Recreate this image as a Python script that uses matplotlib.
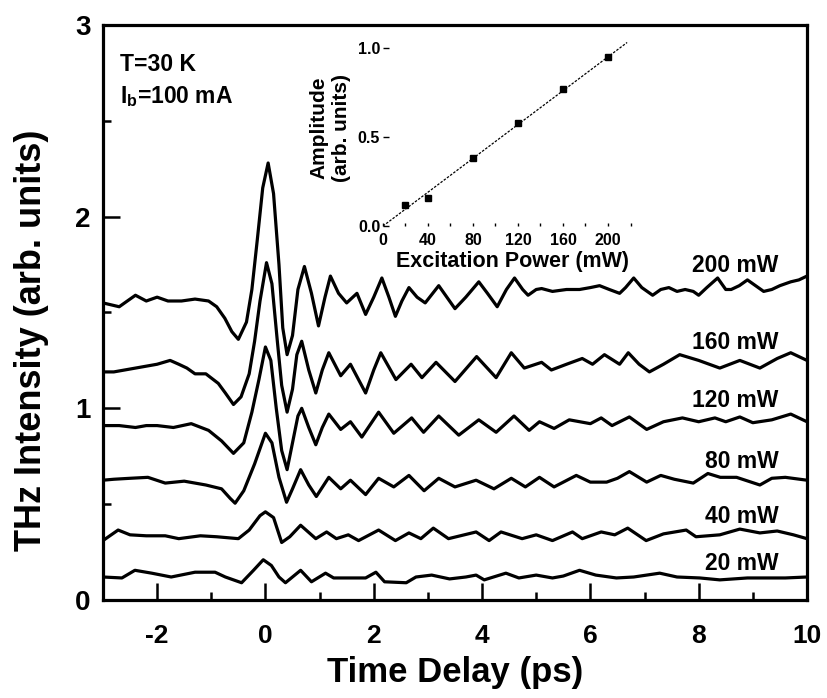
import numpy as np
import matplotlib
matplotlib.use('Agg')
import matplotlib.pyplot as plt
from matplotlib.ticker import MultipleLocator

plt.rcParams['font.family'] = 'Liberation Sans'
plt.rcParams['font.weight'] = 'bold'
plt.rcParams['axes.unicode_minus'] = False
plt.rcParams['mathtext.fontset'] = 'custom'
plt.rcParams['mathtext.rm'] = 'Liberation Sans:bold'

# ---- traces (time in ps, intensity in arb. units, already offset) ----
t_200 = [-3.0, -2.7, -2.55, -2.4, -2.2, -2.0, -1.8, -1.55, -1.3, -1.05, -0.9, -0.75, -0.62, -0.5,
         -0.35, -0.25, -0.15, -0.05, 0.05, 0.15, 0.25, 0.32, 0.4, 0.5, 0.6, 0.72, 0.85, 0.98, 1.1, 1.2,
         1.35, 1.5, 1.69, 1.85, 2.0, 2.15, 2.28, 2.4, 2.52, 2.65, 2.8, 2.95, 3.2, 3.35, 3.5, 3.7, 3.94,
         4.1, 4.28, 4.45, 4.6, 4.75, 4.85, 5.0, 5.1, 5.3, 5.56, 5.8, 6.0, 6.17, 6.35, 6.54, 6.65, 6.8,
         6.95, 7.15, 7.3, 7.45, 7.6, 7.75, 7.9, 8.0, 8.15, 8.35, 8.5, 8.6, 8.75, 8.9, 9.05, 9.2, 9.35,
         9.5, 9.7, 9.85, 10.0]
v_200 = [1.55, 1.53, 1.56, 1.59, 1.56, 1.58, 1.56, 1.56, 1.57, 1.56, 1.53, 1.47, 1.40, 1.36,
         1.45, 1.62, 1.88, 2.15, 2.28, 2.12, 1.75, 1.42, 1.28, 1.38, 1.62, 1.74, 1.60, 1.43, 1.58, 1.69,
         1.60, 1.55, 1.60, 1.49, 1.58, 1.68, 1.58, 1.48, 1.56, 1.63, 1.58, 1.55, 1.64, 1.58, 1.52, 1.58, 1.66,
         1.60, 1.53, 1.62, 1.68, 1.62, 1.59, 1.62, 1.625, 1.61, 1.62, 1.62, 1.63, 1.64, 1.62, 1.60, 1.63, 1.68,
         1.63, 1.59, 1.62, 1.63, 1.61, 1.62, 1.61, 1.59, 1.63, 1.68, 1.62, 1.62, 1.64, 1.67, 1.64, 1.61, 1.62,
         1.64, 1.66, 1.67, 1.69]

t_160 = [-3.0, -2.8, -2.6, -2.4, -2.2, -2.0, -1.76, -1.6, -1.45, -1.3, -1.1, -0.87, -0.74, -0.59, -0.45,
         -0.3, -0.2, -0.1, 0.02, 0.12, 0.22, 0.3, 0.4, 0.5, 0.58, 0.67, 0.8, 0.93, 1.05, 1.17, 1.39, 1.57,
         1.85, 2.0, 2.13, 2.41, 2.69, 2.89, 3.15, 3.5, 3.9, 4.26, 4.54, 4.78, 5.1, 5.28, 5.56, 5.85, 6.04,
         6.26, 6.54, 6.7, 6.9, 7.09, 7.35, 7.65, 8.0, 8.39, 8.76, 9.13, 9.45, 9.7, 10.0]
v_160 = [1.19, 1.19, 1.20, 1.21, 1.22, 1.23, 1.25, 1.23, 1.21, 1.18, 1.18, 1.13, 1.08, 1.02, 1.06,
         1.18, 1.35, 1.56, 1.76, 1.65, 1.35, 1.12, 0.98, 1.10, 1.28, 1.35, 1.20, 1.08, 1.20, 1.29, 1.17, 1.23,
         1.08, 1.20, 1.29, 1.15, 1.23, 1.16, 1.24, 1.14, 1.27, 1.16, 1.29, 1.21, 1.24, 1.20, 1.23, 1.26, 1.23,
         1.28, 1.23, 1.29, 1.23, 1.19, 1.23, 1.28, 1.25, 1.21, 1.25, 1.21, 1.26, 1.29, 1.25]

t_120 = [-3.0, -2.7, -2.4, -2.2, -2.0, -1.7, -1.37, -1.05, -0.81, -0.59, -0.4, -0.25, -0.12, 0.0, 0.1,
         0.2, 0.3, 0.4, 0.5, 0.6, 0.67, 0.8, 0.93, 1.05, 1.17, 1.39, 1.57, 1.78, 2.09, 2.37, 2.7, 2.92, 3.2,
         3.57, 3.94, 4.26, 4.59, 4.87, 5.06, 5.33, 5.61, 6.0, 6.2, 6.4, 6.72, 7.04, 7.35, 7.7, 8.0, 8.3, 8.5,
         8.76, 9.0, 9.35, 9.7, 10.0]
v_120 = [0.91, 0.91, 0.90, 0.91, 0.91, 0.90, 0.92, 0.885, 0.83, 0.765, 0.82, 0.98, 1.15, 1.32, 1.25,
         1.00, 0.78, 0.68, 0.82, 0.96, 1.00, 0.90, 0.81, 0.90, 0.97, 0.89, 0.93, 0.85, 0.98, 0.87, 0.95, 0.875, 0.96,
         0.86, 0.94, 0.875, 0.96, 0.885, 0.93, 0.895, 0.94, 0.92, 0.95, 0.91, 0.955, 0.89, 0.93, 0.95, 0.93, 0.95, 0.93,
         0.955, 0.925, 0.94, 0.97, 0.93]

t_80 = [-3.0, -2.8, -2.5, -2.17, -1.85, -1.5, -1.1, -0.81, -0.65, -0.56, -0.4, -0.2, 0.0, 0.12, 0.25,
        0.39, 0.5, 0.65, 0.8, 0.94, 1.17, 1.39, 1.57, 1.85, 2.09, 2.37, 2.65, 2.93, 3.2, 3.5, 3.89, 4.22,
        4.54, 4.8, 5.06, 5.33, 5.74, 6.0, 6.3, 6.5, 6.72, 7.04, 7.3, 7.55, 7.9, 8.17, 8.4, 8.7, 9.13, 9.35,
        9.6, 10.0]
v_80 = [0.625, 0.63, 0.635, 0.64, 0.61, 0.62, 0.60, 0.58, 0.53, 0.505, 0.57, 0.71, 0.87, 0.82, 0.64,
        0.51, 0.58, 0.68, 0.60, 0.54, 0.64, 0.58, 0.625, 0.55, 0.635, 0.59, 0.65, 0.57, 0.635, 0.59, 0.625, 0.58,
        0.635, 0.59, 0.64, 0.59, 0.65, 0.615, 0.615, 0.635, 0.67, 0.615, 0.65, 0.63, 0.61, 0.66, 0.64, 0.64, 0.60, 0.635,
        0.64, 0.625]

t_40 = [-3.0, -2.72, -2.5, -2.2, -1.85, -1.6, -1.2, -0.9, -0.5, -0.3, -0.1, 0.0, 0.15, 0.3, 0.45,
        0.65, 0.93, 1.13, 1.31, 1.53, 1.72, 2.09, 2.4, 2.65, 2.87, 3.1, 3.38, 3.89, 4.13, 4.35, 4.74, 5.0,
        5.3, 5.67, 5.85, 6.2, 6.45, 6.69, 7.03, 7.35, 7.77, 7.95, 8.39, 8.76, 9.13, 9.45, 9.75, 10.0]
v_40 = [0.31, 0.365, 0.34, 0.335, 0.335, 0.32, 0.335, 0.33, 0.32, 0.365, 0.44, 0.46, 0.43, 0.30, 0.33,
        0.39, 0.32, 0.355, 0.32, 0.34, 0.31, 0.365, 0.31, 0.35, 0.32, 0.375, 0.32, 0.355, 0.31, 0.355, 0.32, 0.34,
        0.31, 0.355, 0.32, 0.355, 0.34, 0.375, 0.31, 0.345, 0.365, 0.33, 0.34, 0.37, 0.35, 0.36, 0.34, 0.32]

t_20 = [-3.0, -2.65, -2.41, -2.1, -1.74, -1.3, -0.93, -0.74, -0.44, -0.22, -0.04, 0.11, 0.25, 0.37,
        0.65, 0.85, 1.11, 1.26, 1.85, 2.04, 2.2, 2.6, 2.78, 3.07, 3.4, 3.7, 3.89, 4.04, 4.44, 4.68, 5.0,
        5.3, 5.5, 5.8, 6.1, 6.48, 6.8, 7.28, 7.6, 8.02, 8.39, 8.9, 9.6, 10.0]
v_20 = [0.12, 0.115, 0.155, 0.14, 0.12, 0.145, 0.145, 0.12, 0.09, 0.155, 0.21, 0.18, 0.12, 0.09,
        0.155, 0.095, 0.14, 0.115, 0.115, 0.145, 0.095, 0.09, 0.12, 0.13, 0.11, 0.12, 0.13, 0.105, 0.14, 0.115, 0.13,
        0.115, 0.125, 0.155, 0.13, 0.115, 0.12, 0.14, 0.12, 0.115, 0.105, 0.115, 0.115, 0.12]

traces = [(t_200, v_200), (t_160, v_160), (t_120, v_120), (t_80, v_80), (t_40, v_40), (t_20, v_20)]
trace_labels = ['200 mW', '160 mW', '120 mW', '80 mW', '40 mW', '20 mW']
label_y = [1.71, 1.31, 1.005, 0.69, 0.40, 0.156]

# ---- inset: amplitude vs excitation power ----
power = [20, 40, 80, 120, 160, 200]
amplitude = [0.12, 0.155, 0.38, 0.58, 0.77, 0.95]
fit_power = [0, 217]
fit_amp = [0.0, 1.03]

fig = plt.figure(figsize=(8.27, 6.98), dpi=100)
ax = fig.add_axes([0.1245, 0.1404, 0.8513, 0.8238])

for (t, v) in traces:
    ax.plot(t, v, color='black', lw=2.3, solid_joinstyle='round', solid_capstyle='round')

for lab, yl in zip(trace_labels, label_y):
    ax.text(9.47, yl, lab, ha='right', va='baseline', fontsize=16.5, fontweight='bold')

ax.text(-2.69, 2.76, 'T=30 K', ha='left', va='baseline', fontsize=16.5, fontweight='bold')
ax.text(-2.69, 2.59, r'I$_{\rm b}$=100 mA', ha='left', va='baseline', fontsize=16.5, fontweight='bold')

ax.set_xlim(-3, 10)
ax.set_ylim(0, 3)
ax.xaxis.set_major_locator(MultipleLocator(2))
ax.xaxis.set_minor_locator(MultipleLocator(1))
ax.yaxis.set_major_locator(MultipleLocator(1))
ax.yaxis.set_minor_locator(MultipleLocator(0.5))
ax.tick_params(which='both', direction='in', width=1.8, top=False, right=False)
ax.tick_params(which='major', length=12)
ax.tick_params(which='minor', length=6)
ax.tick_params(axis='x', which='major', pad=17, labelsize=19)
ax.tick_params(axis='y', which='major', pad=9, labelsize=20)
for s in ax.spines.values():
    s.set_linewidth(2.3)

ax.set_xlabel('Time Delay (ps)', fontsize=25, fontweight='bold')
ax.set_ylabel('THz Intensity (arb. units)', fontsize=26, fontweight='bold')
ax.xaxis.set_label_coords(0.5, -0.097)
ax.yaxis.set_label_coords(-0.077, 0.452)

# inset
axi = fig.add_axes([0.4631, 0.6762, 0.3129, 0.2808])
axi.patch.set_alpha(0)
for s in axi.spines.values():
    s.set_visible(False)
axi.plot(fit_power, fit_amp, color='black', lw=0.9, ls=(0, (2, 1.2)))
axi.plot(power, amplitude, 's', color='black', ms=4.5)
axi.set_xlim(0, 230)
axi.set_ylim(0, 1.1)
axi.set_xticks([0, 40, 80, 120, 160, 200])
axi.xaxis.set_minor_locator(MultipleLocator(20))
axi.set_yticks([0.0, 0.5, 1.0])
axi.set_yticklabels(['0.0', '0.5', '1.0'])
axi.tick_params(which='both', direction='in', width=1, length=2.5)
axi.tick_params(axis='y', length=4)
axi.tick_params(axis='x', pad=5, labelsize=11.5)
axi.tick_params(axis='y', pad=2, labelsize=11.5)
axi.set_xlabel('Excitation Power (mW)', fontsize=15.5, fontweight='bold', labelpad=2)
axi.set_ylabel('Amplitude\n(arb. units)', fontsize=15, fontweight='bold', labelpad=5)

plt.savefig('out.png', dpi=100)
